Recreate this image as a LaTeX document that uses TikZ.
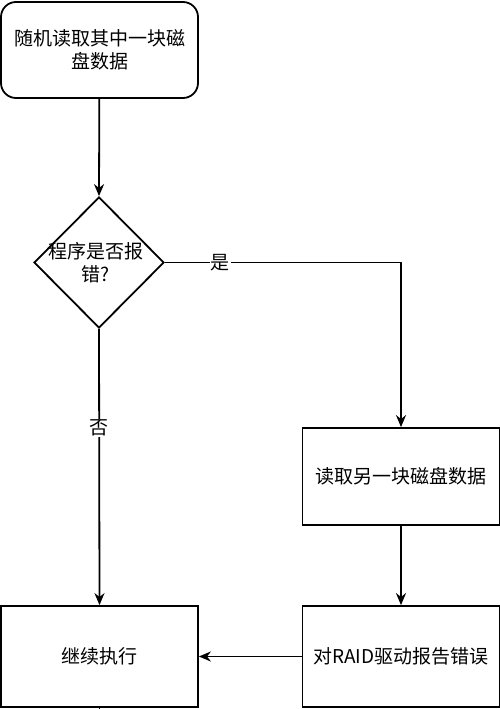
\documentclass[tikz,border=0pt]{standalone}
\usepackage{fontspec}
\setmainfont{Noto Sans CJK SC}
\usetikzlibrary{shapes.geometric,arrows.meta}
\begin{document}
\begin{tikzpicture}[x=1pt,y=-1pt,
  every node/.style={font=\fontsize{19}{23}\selectfont},
  box/.style={draw,line width=1.8pt,minimum width=197pt,minimum height=98pt,inner sep=2pt,align=center},
  rbox/.style={box,rounded corners=15pt,minimum height=96pt},
  dia/.style={draw,line width=1.8pt,diamond,minimum width=130pt,minimum height=131pt,inner sep=0pt},
  lbl/.style={fill=white,inner sep=1pt},
  conn/.style={line width=1.8pt,-{Stealth[length=12pt,width=10pt]}},
  plain/.style={line width=1.8pt}]
\useasboundingbox (0,0) rectangle (500,709);
\node[rbox] (start) at (99.5,50) {随机读取其中一块磁\\盘数据};
\node[dia] (d) at (99,262.5) {};
\node[align=center,inner sep=0pt] (dt) at (96,263) {程序是否报\\错?};
\node[box,minimum height=97pt] (read) at (401,476.5) {读取另一块磁盘数据};
\node[box,minimum height=101pt] (report) at (401,656.5) {对RAID驱动报告错误};
\node[box,minimum height=101pt] (cont) at (99.5,656.5) {继续执行};
\coordinate (corner) at (401,262.5);
\coordinate (tail) at (99.5,709);
\draw[conn] (start) -- (d.north);
\draw[conn] (d.east) -- (corner) -- (read.north);
\node[lbl] (yes) at (220,263) {是};
\draw[conn] (d.south) -- (cont.north);
\node[lbl] (no) at (99,428) {否};
\draw[conn] (read) -- (report);
\draw[conn] (report) -- (cont);
\draw[plain] (cont.south) -- (tail);
\end{tikzpicture}
\end{document}
